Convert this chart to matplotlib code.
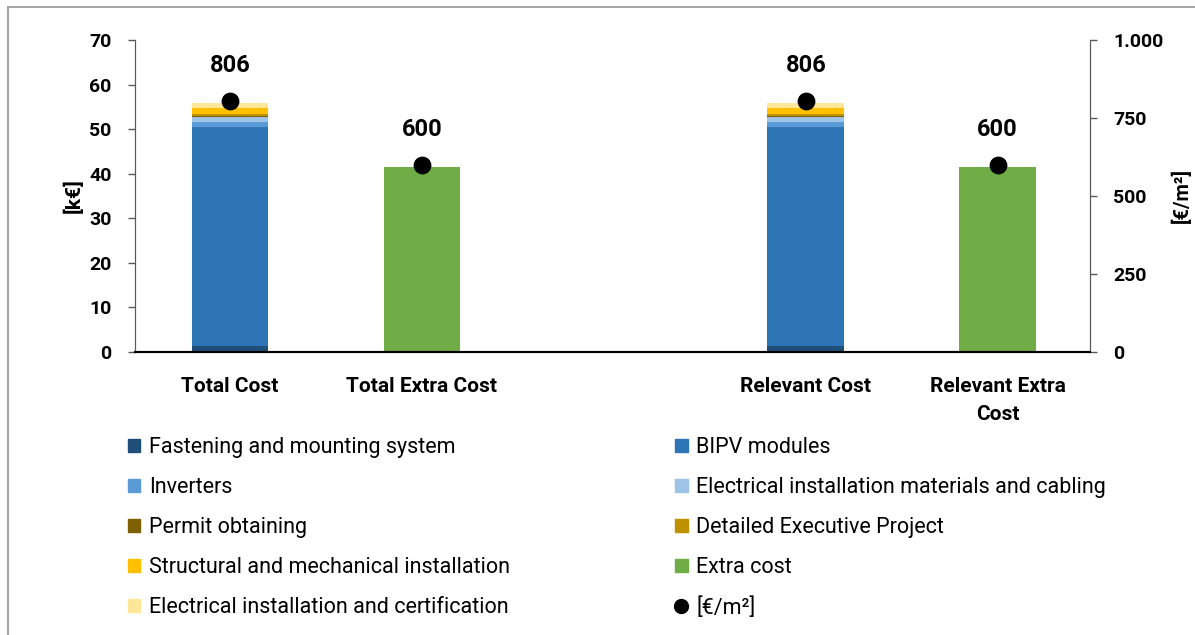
import numpy as np
import matplotlib.pyplot as plt
from matplotlib.patches import Patch, Rectangle
from matplotlib.lines import Line2D

plt.rcParams['font.family'] = ['Roboto', 'DejaVu Sans']

# --- data (k€) ---
categories = ["Total Cost", "Total Extra Cost", "", "Relevant Cost", "Relevant Extra\nCost"]
fastening = [1.35, 0, 0, 1.35, 0]
bipv = [49.05, 0, 0, 49.05, 0]
inverters = [1.1, 0, 0, 1.1, 0]
el_materials = [1.3, 0, 0, 1.3, 0]
permit = [0.25, 0, 0, 0.25, 0]
executive = [0.25, 0, 0, 0.25, 0]
structural = [1.4, 0, 0, 1.4, 0]
el_install = [1.1, 0, 0, 1.1, 0]
extra = [0, 41.5, 0, 0, 41.5]
per_m2 = [806, 600, np.nan, 806, 600]

series = [
    ("Fastening and mounting system", fastening, "#1F4E79"),
    ("BIPV modules", bipv, "#2E75B6"),
    ("Inverters", inverters, "#5B9BD5"),
    ("Electrical installation materials and cabling", el_materials, "#9DC3E6"),
    ("Permit obtaining", permit, "#7F6000"),
    ("Detailed Executive Project", executive, "#BF9000"),
    ("Structural and mechanical installation", structural, "#FFC000"),
    ("Extra cost", extra, "#70AD47"),
    ("Electrical installation and certification", el_install, "#FFE699"),
]
# stacking order (bottom -> top)
stack_order = [0, 1, 2, 3, 4, 5, 6, 8, 7]

fig = plt.figure(figsize=(11.95, 6.35), dpi=100)
ax = fig.add_axes([0.113, 0.4457, 0.799, 0.4913])
ax2 = ax.twinx()

x = np.arange(len(categories))
bottom = np.zeros(len(categories))
for i in stack_order:
    name, vals, col = series[i]
    vals = np.array(vals, dtype=float)
    ax.bar(x, vals, width=0.4, bottom=bottom, color=col, linewidth=0)
    bottom += vals

ax2.scatter(x, per_m2, s=140, color="black", zorder=5)
for xi, v in zip(x, per_m2):
    if not np.isnan(v):
        ax2.annotate(f"{v:.0f}", (xi, v), xytext=(0, 17), textcoords="offset points",
                     ha="center", va="bottom", fontsize=17, fontweight="bold")

ax.set_xlim(-0.495, 4.48)
ax.set_ylim(0, 70)
ax.set_yticks(np.arange(0, 71, 10))
ax2.set_ylim(0, 1000)
ax2.set_yticks([0, 250, 500, 750, 1000])
ax2.set_yticklabels(["0", "250", "500", "750", "1.000"])

ax.set_xticks(x)
ax.set_xticklabels(categories, fontsize=15, fontweight="bold", linespacing=1.6)
ax.tick_params(axis="x", length=0, pad=18)
ax.tick_params(axis="y", length=5, width=1, color="#595959", labelsize=14, pad=12)
ax2.tick_params(axis="y", length=5, width=1, color="#595959", labelsize=14, pad=12)
for lab in ax.get_yticklabels() + ax2.get_yticklabels():
    lab.set_fontweight("bold")

ax.set_ylabel("[k€]", fontsize=15, fontweight="bold", labelpad=4)
ax2.set_ylabel("[€/m²]", fontsize=14.5, fontweight="bold", labelpad=6)

for a in (ax, ax2):
    a.spines["top"].set_visible(False)
    a.spines["left"].set_color("#595959")
    a.spines["right"].set_color("#595959")
    a.spines["bottom"].set_color("black")
    a.spines["bottom"].set_linewidth(1.5)

# legend (row-wise reading order, two columns)
handles = [Patch(color=col, label=name) for name, vals, col in series]
handles.append(Line2D([], [], marker="o", color="black", linestyle="none",
                      markersize=10, label="[€/m²]"))
order = [0, 2, 4, 6, 8, 1, 3, 5, 7, 9]
fig.legend([handles[i] for i in order], [handles[i].get_label() for i in order],
           ncol=2, loc="upper left", bbox_to_anchor=(0.0905, 0.342),
           frameon=False, fontsize=15.5, handlelength=0.6, handleheight=0.6,
           handletextpad=0.4, labelspacing=0.88, columnspacing=7.65)

# outer frame (left and top edges visible)
fig.add_artist(Rectangle((0.007, -0.1), 1.2, 1.089, transform=fig.transFigure,
                         fill=False, edgecolor="#A6A6A6", linewidth=1.5))

fig.savefig("out.png", dpi=100)
